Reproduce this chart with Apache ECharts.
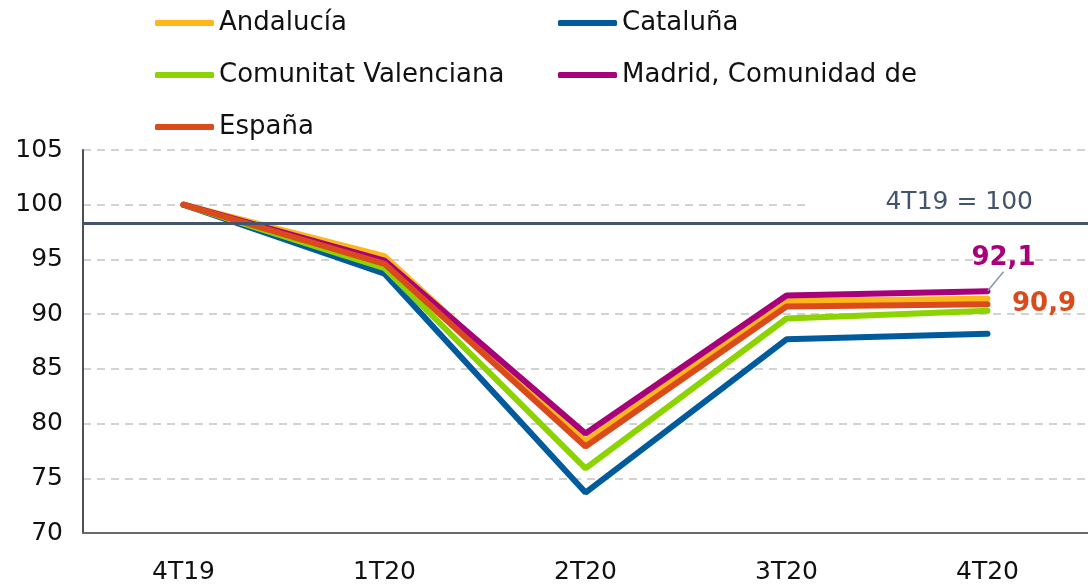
<!DOCTYPE html>
<html>
<head>
<meta charset="utf-8">
<script src="https://cdn.jsdelivr.net/npm/echarts@6/dist/echarts.min.js"></script>
<style>
  html, body { margin: 0; padding: 0; background: #fff; }
  #chart { width: 1088px; height: 588px; }
</style>
</head>
<body>
<div id="chart"></div>
<script>
// periodos
const quarters = ['4T19', '1T20', '2T20', '3T20', '4T20']
// indice 4T19 = 100
const andalucia = [100, 95.3, 78.4, 91.2, 91.4]
const cataluna = [100, 93.7, 73.7, 87.7, 88.2]
const valenciana = [100, 94.2, 75.9, 89.6, 90.3]
const madrid = [100, 94.9, 79.1, 91.7, 92.1]
const espana = [100, 94.6, 77.9, 90.7, 90.9]
const refValue = 98.3
const refLabel = '4T19 = 100'

const font = 'DejaVu Sans'
const chart = echarts.init(document.getElementById('chart'))

// symbol is kept tiny so that the point labels can be attached to it
function lineSeries (name, data, color, extra) {
  return Object.assign({
    name: name,
    type: 'line',
    data: data,
    symbol: 'circle',
    symbolSize: 1,
    color: color,
    itemStyle: { color: color },
    lineStyle: { width: 6, color: color, cap: 'round' }
  }, extra || {})
}

// only the last point gets a label
function labelLast (arr) {
  return arr.map((v, i) => i === arr.length - 1 ? { value: v, label: { show: true } } : v)
}

function comma (p) {
  return String(p.value).replace('.', ',')
}

const legendText = { fontFamily: font, fontSize: 26, color: '#111' }

chart.setOption({
  animation: false,
  textStyle: { fontFamily: font },
  legend: [
    {
      orient: 'vertical', left: 150, top: 5, itemGap: 26,
      itemWidth: 59, itemHeight: 6, icon: 'roundRect',
      textStyle: legendText, selectedMode: false,
      data: ['Andalucía', 'Comunitat Valenciana', 'España']
    },
    {
      orient: 'vertical', left: 553, top: 5, itemGap: 26,
      itemWidth: 59, itemHeight: 6, icon: 'roundRect',
      textStyle: legendText, selectedMode: false,
      data: ['Cataluña', 'Madrid, Comunidad de']
    }
  ],
  grid: { left: 83, right: -7, top: 150, bottom: 55 },
  xAxis: {
    type: 'category',
    data: quarters,
    axisLine: { lineStyle: { color: '#6b6b6b', width: 2 } },
    axisTick: { show: false },
    axisLabel: { fontSize: 25, color: '#111', fontFamily: font, margin: 27 }
  },
  yAxis: {
    type: 'value',
    min: 70,
    max: 105,
    interval: 5,
    axisLine: { show: true, lineStyle: { color: '#4a4f5a', width: 2 } },
    axisLabel: { fontSize: 25, color: '#111', fontFamily: font, margin: 20 },
    splitLine: { lineStyle: { color: '#c4c4c4', width: 1.5, type: [8, 6] } }
  },
  series: [
    lineSeries('Andalucía', andalucia, '#FDB71A', {
      markLine: {
        silent: true,
        symbol: 'none',
        lineStyle: { color: '#44546A', width: 3, type: 'solid' },
        label: {
          formatter: refLabel,
          position: 'insideEndTop',
          distance: [0, 6],
          fontSize: 25,
          fontFamily: font,
          color: '#44546A',
          backgroundColor: '#fff',
          padding: [3, 55, 2, 77]
        },
        data: [{ yAxis: refValue }]
      }
    }),
    lineSeries('Cataluña', cataluna, '#005B9D'),
    lineSeries('Comunitat Valenciana', valenciana, '#8DD300'),
    lineSeries('Madrid, Comunidad de', labelLast(madrid), '#A8007B', {
      label: {
        show: false,
        position: 'top',
        fontSize: 26,
        fontWeight: 'bold',
        fontFamily: font,
        color: '#A8007B',
        formatter: comma
      },
      labelLine: { show: true, lineStyle: { color: '#8496B0', width: 1.5 } },
      labelLayout: { dx: 16, dy: -14 }
    }),
    lineSeries('España', labelLast(espana), '#DA4A1A', {
      label: {
        show: false,
        position: 'right',
        distance: 24,
        fontSize: 26,
        fontWeight: 'bold',
        fontFamily: font,
        color: '#DA4A1A',
        formatter: comma
      }
    })
  ]
})

window.onresize = function () {
  chart.resize()
}
</script>
</body>
</html>
